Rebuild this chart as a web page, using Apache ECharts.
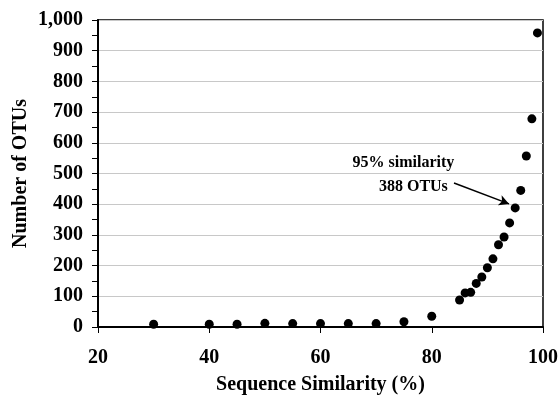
<!DOCTYPE html>
<html>
<head>
<meta charset="utf-8">
<script src="https://cdn.jsdelivr.net/npm/echarts@6/dist/echarts.min.js"></script>
<style>
  html, body { margin: 0; padding: 0; background: #fff; }
  #main { width: 559px; height: 396px; }
</style>
</head>
<body>
<div id="main"></div>
<script>
// sequence similarity (%) and number of OTUs
var similarity = [30, 40, 45, 50, 55, 60, 65, 70, 75, 80, 85, 86, 87, 88, 89, 90, 91, 92, 93, 94, 95, 96, 97, 98, 99];
var otus = [9, 9, 9, 12, 11, 11, 11, 11, 17, 35, 88, 111, 113, 142, 163, 193, 222, 268, 293, 339, 388, 445, 557, 678, 958];

var xTicks = [20, 40, 60, 80, 100];
var yTicks = [0, 100, 200, 300, 400, 500, 600, 700, 800, 900, 1000];

var fontFam = '"Liberation Serif", "Times New Roman", serif';

var chart = echarts.init(document.getElementById('main'));

var pts = [];
for (var i = 0; i < similarity.length; i++) {
    pts.push([similarity[i], otus[i]]);
}

chart.setOption({
    animation: false,
    backgroundColor: '#fff',
    grid: {
        left: 98,
        right: 16,
        top: 20,
        bottom: 69,
        containLabel: false,
        outerBoundsMode: 'none',
        show: true,
        borderColor: '#000',
        borderWidth: 1.5
    },
    xAxis: {
        type: 'value',
        min: xTicks[0],
        max: xTicks[xTicks.length - 1],
        interval: 20,
        name: 'Sequence Similarity (%)',
        nameLocation: 'middle',
        nameGap: 48,
        nameMoveOverlap: false,
        nameTextStyle: { fontFamily: fontFam, fontWeight: 'bold', fontSize: 20, color: '#000' },
        axisLine: { lineStyle: { color: '#000', width: 2 } },
        axisTick: { inside: false, length: 6, lineStyle: { color: '#000', width: 1 } },
        axisLabel: { fontFamily: fontFam, fontWeight: 'bold', fontSize: 20, color: '#000', margin: 21 },
        splitLine: { show: false }
    },
    yAxis: {
        type: 'value',
        min: yTicks[0],
        max: yTicks[yTicks.length - 1],
        interval: 100,
        name: 'Number of OTUs',
        nameLocation: 'middle',
        nameGap: 67,
        nameMoveOverlap: false,
        nameTextStyle: { fontFamily: fontFam, fontWeight: 'bold', fontSize: 20, color: '#000' },
        axisLine: { show: true, lineStyle: { color: '#000', width: 2 } },
        axisTick: { show: true, length: 6, lineStyle: { color: '#000', width: 1 } },
        minorTick: { show: true, splitNumber: 2, length: 6, lineStyle: { color: '#000', width: 1 } },
        axisLabel: {
            fontFamily: fontFam, fontWeight: 'bold', fontSize: 20, color: '#000', margin: 15,
            formatter: function (v) { return v.toLocaleString('en-US'); }
        },
        splitLine: { show: true, lineStyle: { color: '#c8c8c8', width: 1 } }
    },
    series: [{
        type: 'scatter',
        data: pts,
        symbol: 'circle',
        symbolSize: 9,
        itemStyle: { color: '#000', opacity: 1 },
        z: 5,
        markLine: {
            silent: true,
            symbol: ['none', 'arrow'],
            symbolSize: [8, 10],
            label: { show: false },
            lineStyle: { color: '#000', width: 1.5, type: 'solid' },
            data: [[{ coord: [84.0, 469] }, { coord: [93.9, 401] }]]
        },
        markPoint: {
            silent: true,
            symbol: 'circle',
            symbolSize: 0,
            label: {
                show: true,
                position: 'inside',
                fontFamily: fontFam,
                fontWeight: 'bold',
                fontSize: 16,
                color: '#000',
                formatter: '{b}'
            },
            data: [
                { name: '95% similarity', coord: [74.9, 535] },
                { name: '388 OTUs', coord: [76.7, 457] }
            ]
        }
    }]
});
</script>
</body>
</html>
